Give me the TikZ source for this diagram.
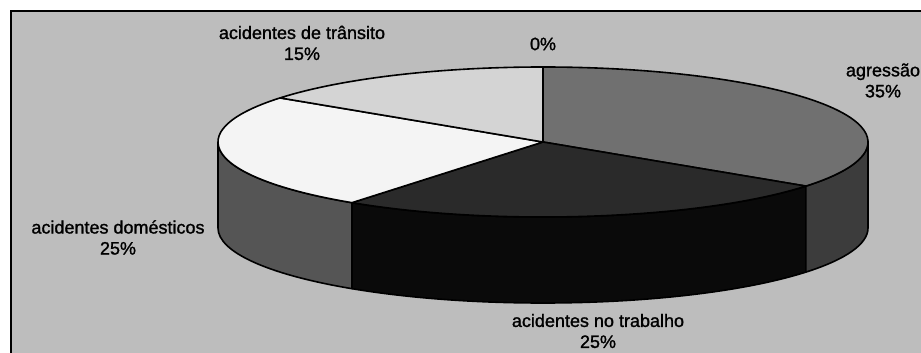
\documentclass[tikz,border=0pt]{standalone}
\usepackage{fontspec}
\setmainfont{Liberation Sans}
\newfontfamily\lblfont[BoldFont={Liberation Sans}, BoldFeatures={FakeBold=1.3}]{Liberation Sans}
\definecolor{bgc}{HTML}{BDBDBD}
\definecolor{trantop}{HTML}{D4D4D4}
\definecolor{domtop}{HTML}{F4F4F4}
\definecolor{domside}{HTML}{555555}
\definecolor{trabtop}{HTML}{2A2A2A}
\definecolor{trabside}{HTML}{0A0A0A}
\definecolor{aggtop}{HTML}{707070}
\definecolor{aggside}{HTML}{3C3C3C}
\begin{document}
\begin{tikzpicture}[x=1pt,y=1pt,
  lbl/.style={align=center, font=\lblfont\bfseries\fontsize{18}{21}\selectfont, inner sep=0pt},
  rim/.style={draw=black, line width=1.6pt, line join=round},
  ell/.style={x radius=325pt, y radius=75pt}]
\useasboundingbox (0,0) rectangle (921,353);
\clip (0,0) rectangle (921,353);
\fill[white] (0,0) rectangle (921,353);
\filldraw[fill=bgc, draw=black, line width=2pt] (11,-10) rectangle (932,342);
\coordinate (C) at (543,211);
% side walls
\filldraw[fill=domside, rim] (C) ++(-180:325pt and 75pt) arc[start angle=-180, end angle=-126, ell] -- ++(0,-86) arc[start angle=-126, end angle=-180, ell] -- cycle;
\filldraw[fill=trabside, rim] (C) ++(-126:325pt and 75pt) arc[start angle=-126, end angle=-36, ell] -- ++(0,-86) arc[start angle=-36, end angle=-126, ell] -- cycle;
\filldraw[fill=aggside, rim] (C) ++(-36:325pt and 75pt) arc[start angle=-36, end angle=0, ell] -- ++(0,-86) arc[start angle=0, end angle=-36, ell] -- cycle;
% tops
\filldraw[fill=aggtop, rim] (C) -- ++(-36:325pt and 75pt) arc[start angle=-36, end angle=90, ell] -- cycle;
\filldraw[fill=trabtop, rim] (C) -- ++(-126:325pt and 75pt) arc[start angle=-126, end angle=-36, ell] -- cycle;
\filldraw[fill=domtop, rim] (C) -- ++(144:325pt and 75pt) arc[start angle=144, end angle=234, ell] -- cycle;
\filldraw[fill=trantop, rim] (C) -- ++(90:325pt and 75pt) arc[start angle=90, end angle=144, ell] -- cycle;
% labels
\node[lbl] (tran) at (302,310) {acidentes de trânsito\\15\%};
\node[lbl] (zero) at (543,309) {0\%};
\node[lbl] (agg) at (883,272.5) {agressão\\35\%};
\node[lbl] (dom) at (118,115.5) {acidentes domésticos\\25\%};
\node[lbl] (trab) at (598,22) {acidentes no trabalho\\25\%};
\end{tikzpicture}
\end{document}
